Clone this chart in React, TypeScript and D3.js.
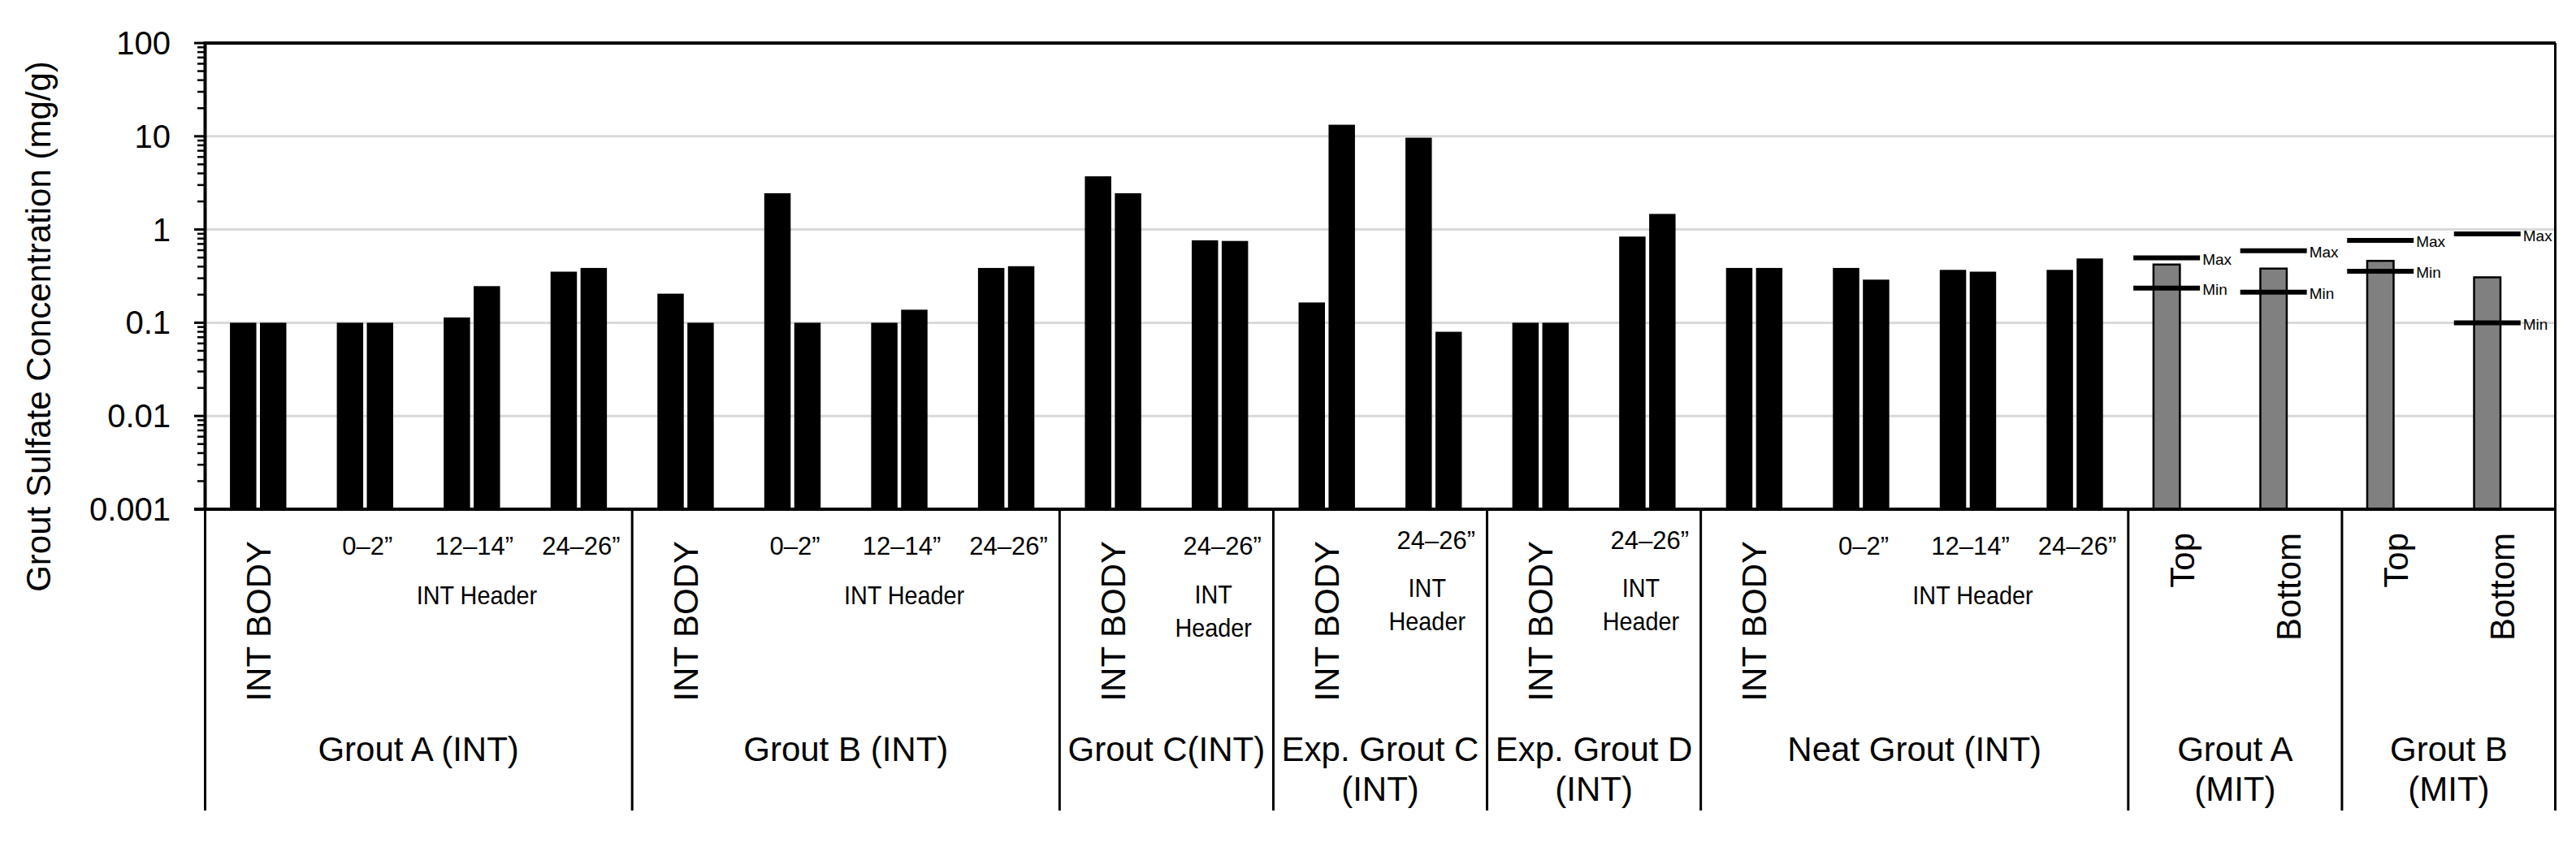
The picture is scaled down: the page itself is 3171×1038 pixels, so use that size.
import React from 'react';
import * as d3 from 'd3';

// ---------- data ----------
const categories = [
  'INT BODY', '0–2”', '12–14”', '24–26”',
  'INT BODY', '0–2”', '12–14”', '24–26”',
  'INT BODY', '24–26”',
  'INT BODY', '24–26”',
  'INT BODY', '24–26”',
  'INT BODY', '0–2”', '12–14”', '24–26”',
  'Top', 'Bottom',
  'Top', 'Bottom',
];
const rotatedLabels = ['INT BODY', 'Top', 'Bottom'];

const groupLabels = [
  ['Grout A (INT)'],
  ['Grout B (INT)'],
  ['Grout C(INT)'],
  ['Exp. Grout C', '(INT)'],
  ['Exp. Grout D', '(INT)'],
  ['Neat Grout (INT)'],
  ['Grout A', '(MIT)'],
  ['Grout B', '(MIT)'],
];
const groupSizes = [4, 4, 2, 2, 2, 4, 2, 2];

// "INT Header" sub-labels: text lines, first and last category index
const headerLines = [
  ['INT Header'],
  ['INT Header'],
  ['INT', 'Header'],
  ['INT', 'Header'],
  ['INT', 'Header'],
  ['INT Header'],
];
const headerFrom = [1, 5, 9, 11, 13, 15];
const headerTo = [3, 7, 9, 11, 13, 17];

// series values (mg/g)
const series1 = [0.1, 0.1, 0.114, 0.353, 0.205, 2.45, 0.1, 0.387, 3.72, 0.766, 0.165, 9.65, 0.1, 0.84, 0.387, 0.387, 0.369, 0.369, 0.421, 0.381, 0.461, 0.307];
const series2 = [0.1, 0.1, 0.247, 0.387, 0.1, 0.1, 0.138, 0.404, 2.45, 0.754, 13.3, 0.08, 0.1, 1.47, 0.387, 0.29, 0.353, 0.489, null, null, null, null];
const mitIndex = [18, 19, 20, 21];
const maxVals = [0.497, 0.592, 0.766, 0.897];
const minVals = [0.235, 0.213, 0.357, 0.1];

const yTicks = [0.001, 0.01, 0.1, 1, 10, 100];
const yTickLabels = ['0.001', '0.01', '0.1', '1', '10', '100'];
const yTitle = 'Grout Sulfate Concentration (mg/g)';

// ---------- layout ----------
const W = 3171;
const H = 1038;
const left = 252;
const right = 3146;
const top = 53;
const bottom = 627;
const FONT = 'Liberation Sans, Arial, Helvetica, sans-serif';

export default function App() {
  const x = d3.scaleBand<number>().domain(d3.range(categories.length)).range([left, right]).padding(0);
  const inner = d3.scaleBand<number>().domain([0, 1]).range([-34.7, 34.7]).paddingInner(0.12);
  const y = d3.scaleLog().domain([0.001, 100]).range([bottom, top]);
  const cx = (i: number) => (x(i) as number) + x.bandwidth() / 2;

  const minorTicks: number[] = [];
  yTicks.slice(0, -1).forEach((d) => {
    for (let k = 2; k <= 9; k++) minorTicks.push(d * k);
  });

  const boundaries: number[] = [0];
  groupSizes.forEach((s) => boundaries.push(boundaries[boundaries.length - 1] + s));

  const gridVals = yTicks.slice(1, -1);

  return (
    <svg width={W} height={H} style={{ position: 'absolute', left: 0, top: 0, background: '#fff' }} fontFamily={FONT}>
      <rect x={0} y={0} width={W} height={H} fill="#fff" />
      {/* gridlines */}
      {gridVals.map((v) => (
        <line key={'g' + v} x1={left} x2={right} y1={y(v)} y2={y(v)} stroke="#d9d9d9" strokeWidth={3} />
      ))}

      {/* bars */}
      {series1.map((v, i) => {
        const isMit = series2[i] === null;
        return (
          <rect
            key={'s1' + i}
            x={cx(i) + (inner(0) as number)}
            y={y(v)}
            width={inner.bandwidth()}
            height={bottom - y(v)}
            fill={isMit ? '#808080' : '#000'}
            stroke={isMit ? '#000' : 'none'}
            strokeWidth={isMit ? 2.5 : 0}
          />
        );
      })}
      {series2.map((v, i) =>
        v === null ? null : (
          <rect
            key={'s2' + i}
            x={cx(i) + (inner(1) as number)}
            y={y(v)}
            width={inner.bandwidth()}
            height={bottom - y(v)}
            fill="#000"
          />
        )
      )}

      {/* max / min markers */}
      {mitIndex.map((ci, k) => {
        const bc = cx(ci) + (inner(0) as number) + inner.bandwidth() / 2;
        return (
          <g key={'mm' + ci}>
            <line x1={bc - 41} x2={bc + 41} y1={y(maxVals[k])} y2={y(maxVals[k])} stroke="#000" strokeWidth={6} />
            <line x1={bc - 41} x2={bc + 41} y1={y(minVals[k])} y2={y(minVals[k])} stroke="#000" strokeWidth={6} />
            <text x={bc + 44} y={y(maxVals[k]) + 2} fontSize={19} dominantBaseline="central">Max</text>
            <text x={bc + 44} y={y(minVals[k]) + 2} fontSize={19} dominantBaseline="central">Min</text>
          </g>
        );
      })}

      {/* plot border */}
      <line x1={left} x2={right} y1={top} y2={top} stroke="#000" strokeWidth={4} />
      <line x1={right - 0.5} x2={right - 0.5} y1={top} y2={bottom} stroke="#000" strokeWidth={3} />
      <line x1={left + 0.5} x2={left + 0.5} y1={top - 2} y2={bottom + 2} stroke="#000" strokeWidth={4} />
      <line x1={left - 13} x2={right} y1={bottom} y2={bottom} stroke="#000" strokeWidth={4} />

      {/* y ticks */}
      {yTicks.map((v) => (
        <line key={'t' + v} x1={left - 13} x2={left} y1={y(v)} y2={y(v)} stroke="#000" strokeWidth={3} />
      ))}
      {minorTicks.map((v) => (
        <line key={'m' + v} x1={left - 9} x2={left} y1={y(v)} y2={y(v)} stroke="#000" strokeWidth={2.5} />
      ))}
      {yTicks.map((v, i) => (
        <text key={'tl' + v} x={210} y={y(v)} fontSize={40} textAnchor="end" dominantBaseline="central">
          {yTickLabels[i]}
        </text>
      ))}

      {/* y title */}
      <text transform={`translate(62, 402) rotate(-90)`} fontSize={42} textAnchor="middle">
        {yTitle}
      </text>

      {/* group separators */}
      {boundaries.map((b, i) => {
        const bx = b === categories.length ? right - 0.5 : (x(b) as number) + (b === 0 ? 0.5 : 0);
        return <line key={'sep' + i} x1={bx} x2={bx} y1={bottom} y2={998} stroke="#000" strokeWidth={3} />;
      })}

      {/* category labels */}
      {categories.map((c, i) => {
        const rot = rotatedLabels.includes(c);
        const gi = d3.bisectRight(boundaries, i) - 1;
        const exp = gi === 3 || gi === 4;
        if (rot) {
          const topY = c === 'INT BODY' ? 666 : 656;
          return (
            <text key={'c' + i} transform={`translate(${cx(i) + 15}, ${topY}) rotate(-90)`} fontSize={42} textAnchor="end">
              {c}
            </text>
          );
        }
        return (
          <text key={'c' + i} x={cx(i) + 3} y={exp ? 676 : 683} fontSize={31} textAnchor="middle">
            {c}
          </text>
        );
      })}

      {/* header sub labels */}
      {headerLines.map((lines, k) => {
        const a = x(headerFrom[k]) as number;
        const b = (x(headerTo[k]) as number) + x.bandwidth();
        const single = lines.length === 1;
        const mid = (a + b) / 2 + (single ? 6 : -8);
        const gi = d3.bisectRight(boundaries, headerFrom[k]) - 1;
        const exp = gi === 3 || gi === 4;
        const base = single ? 744 : exp ? 735 : 743;
        return lines.map((t, j) => (
          <text
            key={'h' + k + '_' + j}
            transform={`translate(${mid}, ${base + j * 41}) scale(0.9, 1)`}
            fontSize={32}
            textAnchor="middle"
          >
            {t}
          </text>
        ));
      })}

      {/* group labels */}
      {groupLabels.map((lines, g) => {
        const a = x(boundaries[g]) as number;
        const b = boundaries[g + 1] === categories.length ? right : (x(boundaries[g + 1]) as number);
        const mid = (a + b) / 2;
        return lines.map((t, j) => (
          <text key={'gl' + g + '_' + j} x={mid} y={937 + j * 49} fontSize={42} textAnchor="middle">
            {t}
          </text>
        ));
      })}
    </svg>
  );
}
